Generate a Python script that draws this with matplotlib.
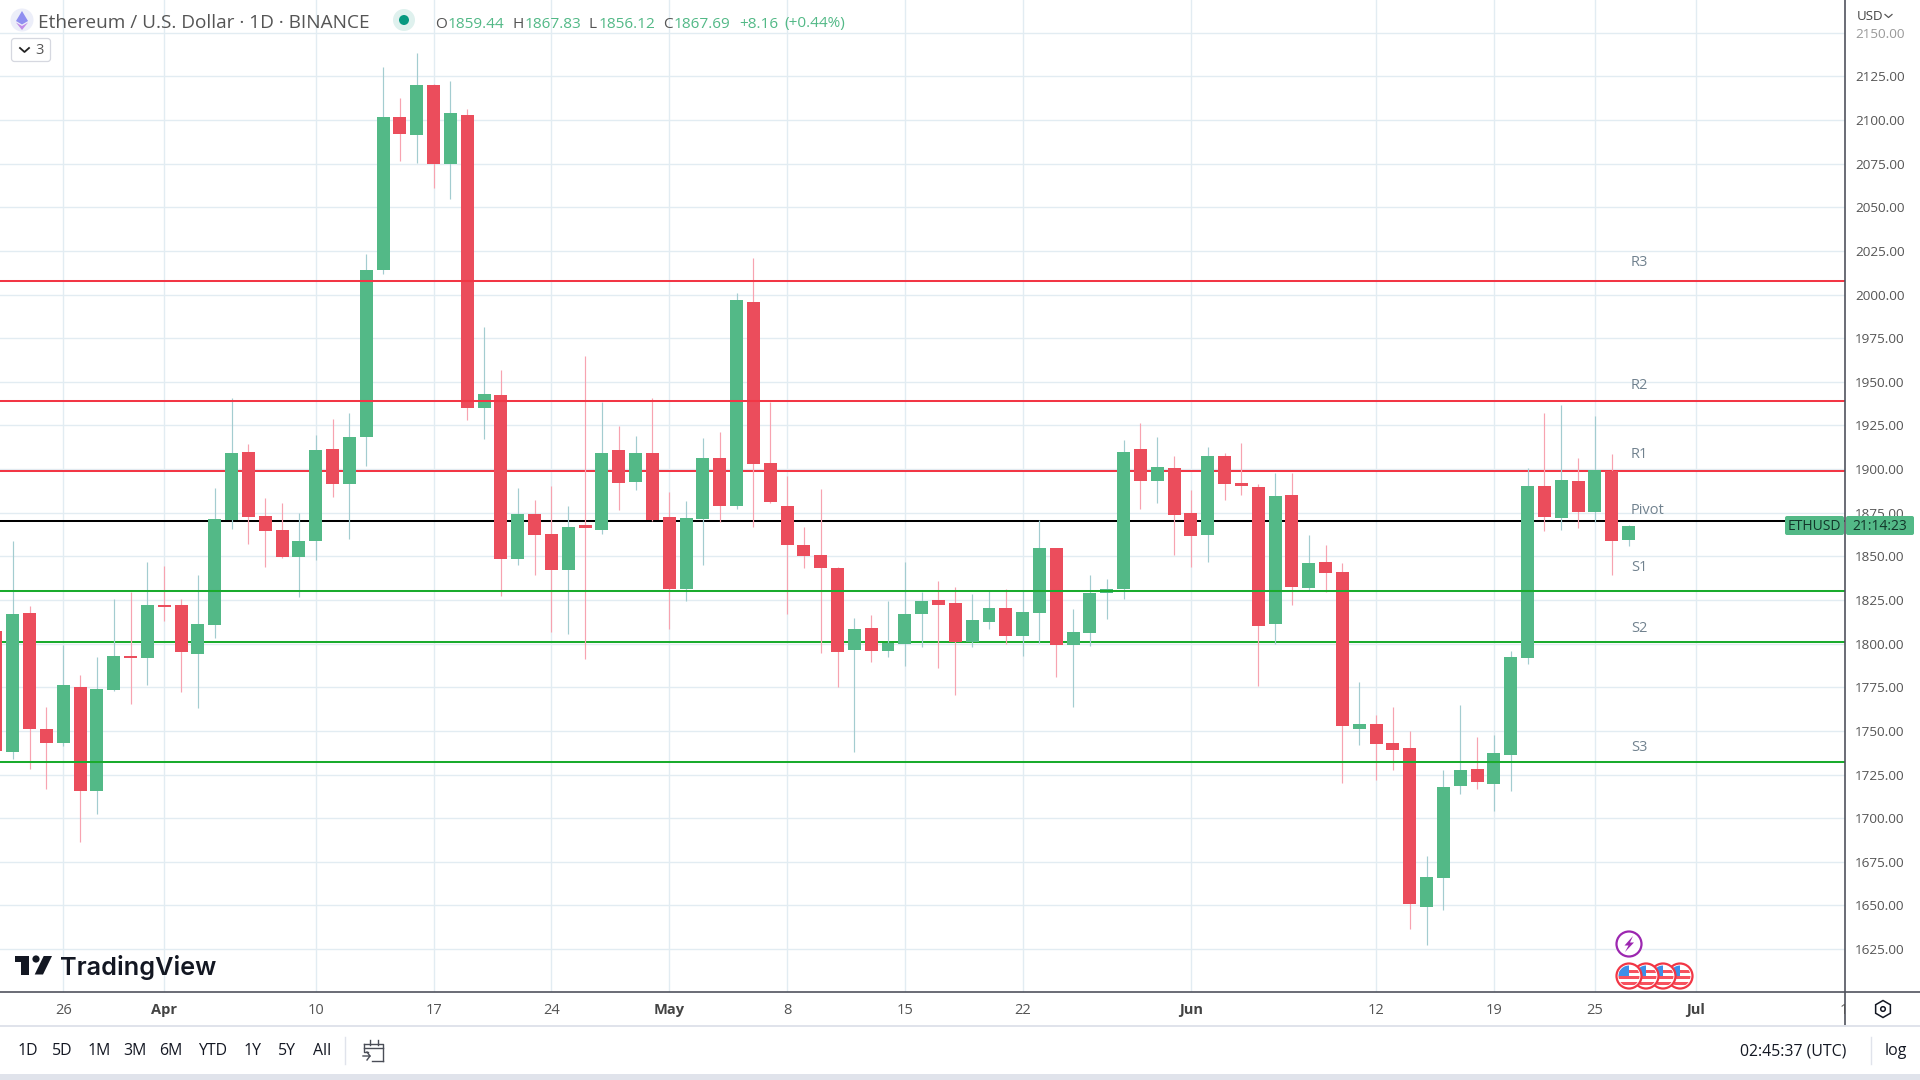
#!/usr/bin/env python3
import numpy as np
import pandas as pd
import matplotlib
matplotlib.use("Agg")
import matplotlib.pyplot as plt
import matplotlib.dates as mdates
from matplotlib.patches import Circle, Rectangle, Polygon, FancyBboxPatch, RegularPolygon

plt.rcParams['font.family'] = ['Open Sans', 'DejaVu Sans']

# daily candles, 22 Mar to 27 Jun 2023
opens = [1807.2, 1737.9, 1817.5, 1750.9, 1743.0, 1775.0, 1715.4, 1773.3, 1793.0, 1791.6,
         1822.2, 1822.0, 1794.0, 1810.6, 1870.8, 1909.9, 1873.2, 1865.0, 1849.8, 1858.9,
         1911.4, 1891.5, 1918.4, 2014.1, 2101.7, 2091.4, 2120.0, 2074.9, 2102.9, 1934.9,
         1942.4, 1848.4, 1874.1, 1862.7, 1842.1, 1868.0, 1865.0, 1910.9, 1892.7, 1909.1,
         1872.6, 1831.2, 1871.4, 1906.4, 1879.0, 1995.8, 1903.4, 1878.8, 1856.4, 1850.7,
         1843.2, 1796.3, 1808.9, 1795.7, 1799.8, 1817.0, 1825.1, 1823.3, 1801.0, 1812.4,
         1820.3, 1804.3, 1817.6, 1854.9, 1799.2, 1806.1, 1829.0, 1831.2, 1911.5, 1893.2,
         1900.7, 1874.8, 1862.2, 1907.6, 1892.0, 1889.8, 1811.3, 1885.2, 1831.7, 1846.7,
         1840.9, 1751.0, 1754.0, 1743.0, 1740.3, 1649.1, 1665.7, 1718.4, 1728.1, 1719.7,
         1736.1, 1791.7, 1890.4, 1872.0, 1893.1, 1875.5, 1899.1, 1859.44]
highs = [1825.0, 1858.8, 1821.8, 1763.6, 1799.5, 1782.0, 1792.2, 1825.6, 1829.7, 1847.0,
         1844.5, 1825.4, 1839.2, 1889.1, 1940.5, 1914.2, 1883.6, 1880.5, 1874.7, 1919.5,
         1928.6, 1932.2, 2023.2, 2130.3, 2112.6, 2138.4, 2120.8, 2122.4, 2106.2, 1981.3,
         1956.8, 1889.1, 1882.2, 1890.3, 1878.9, 1964.7, 1938.5, 1924.7, 1918.9, 1940.7,
         1886.8, 1881.7, 1917.8, 1921.2, 2000.9, 2021.0, 1938.4, 1896.1, 1866.7, 1888.6,
         1844.0, 1814.6, 1816.4, 1824.5, 1847.0, 1829.6, 1836.0, 1832.4, 1828.4, 1830.2,
         1831.2, 1830.2, 1871.0, 1854.9, 1819.7, 1839.3, 1836.9, 1916.6, 1926.3, 1918.4,
         1907.6, 1888.2, 1912.7, 1909.1, 1914.9, 1891.4, 1897.7, 1897.9, 1862.3, 1856.6,
         1846.2, 1778.0, 1759.2, 1763.7, 1750.0, 1678.4, 1727.6, 1764.9, 1746.5, 1747.7,
         1795.7, 1900.6, 1932.1, 1936.6, 1906.3, 1930.2, 1908.5, 1867.83]
lows = [1730.0, 1734.0, 1728.0, 1716.6, 1741.3, 1686.2, 1702.2, 1773.0, 1765.4, 1776.2,
        1813.0, 1772.3, 1763.0, 1803.0, 1865.9, 1857.0, 1843.9, 1849.0, 1826.7, 1848.0,
        1884.0, 1859.9, 1901.8, 2011.7, 2076.6, 2075.5, 2061.0, 2054.7, 1928.0, 1917.2,
        1827.1, 1845.1, 1839.2, 1806.6, 1805.6, 1791.0, 1862.9, 1876.7, 1888.2, 1870.3,
        1808.3, 1824.5, 1845.0, 1869.7, 1877.2, 1866.7, 1880.5, 1817.0, 1843.2, 1794.7,
        1775.1, 1738.0, 1789.7, 1792.3, 1787.2, 1798.0, 1786.0, 1770.6, 1798.0, 1808.3,
        1800.0, 1792.9, 1800.4, 1780.9, 1763.7, 1798.6, 1814.0, 1825.5, 1877.2, 1880.5,
        1850.7, 1843.8, 1847.0, 1882.3, 1885.1, 1775.7, 1800.0, 1822.1, 1830.8, 1829.5,
        1720.2, 1741.8, 1721.9, 1727.6, 1636.4, 1627.2, 1647.4, 1713.7, 1716.7, 1704.0,
        1715.4, 1788.5, 1864.5, 1865.0, 1866.3, 1869.5, 1839.2, 1856.12]
closes = [1738.5, 1816.9, 1750.9, 1743.0, 1776.2, 1715.4, 1773.8, 1792.8, 1792.0, 1822.0,
          1821.2, 1795.2, 1811.1, 1871.4, 1909.3, 1872.8, 1864.7, 1849.8, 1859.0, 1910.9,
          1891.5, 1918.4, 2014.1, 2101.7, 2092.0, 2120.0, 2074.9, 2104.0, 1934.9, 1943.0,
          1848.4, 1874.1, 1862.3, 1842.1, 1866.8, 1866.0, 1909.3, 1892.0, 1909.3, 1870.9,
          1831.2, 1872.0, 1906.4, 1878.6, 1997.0, 1902.8, 1881.1, 1856.4, 1850.1, 1843.2,
          1795.3, 1808.3, 1795.7, 1800.4, 1817.0, 1824.5, 1822.1, 1801.0, 1813.4, 1820.3,
          1804.3, 1818.2, 1854.9, 1799.2, 1806.7, 1829.0, 1831.2, 1909.7, 1893.2, 1901.2,
          1873.6, 1861.6, 1907.6, 1891.4, 1890.4, 1810.1, 1884.7, 1832.5, 1846.2, 1840.4,
          1752.7, 1754.0, 1742.5, 1739.0, 1650.8, 1666.2, 1717.9, 1727.6, 1720.7, 1737.3,
          1792.2, 1890.4, 1872.5, 1893.9, 1875.5, 1899.6, 1858.8, 1867.69]

# pivot levels
over_names = ['R3', 'R2', 'S1', 'S3']
over_levels = [2007.8, 1939.0, 1830.2, 1732.2]
over_colours = ['#f23645', '#f23645', '#1aab2d', '#1aab2d']
under_names = ['R1', 'Pivot', 'S2']
under_levels = [1898.9, 1870.3, 1801.0]
under_colours = ['#f23645', '#000000', '#1aab2d']
label_lift = {'R3': 13.1, 'R2': 11.4, 'R1': 12.2, 'Pivot': 7.8, 'S1': 16.6, 'S2': 9.6, 'S3': 10.5}

price_ticks = list(range(1625, 2151, 25))
date_ticks = ['2023-03-26', '2023-04-01', '2023-04-10', '2023-04-17', '2023-04-24', '2023-05-01',
              '2023-05-08', '2023-05-15', '2023-05-22', '2023-06-01', '2023-06-12', '2023-06-19',
              '2023-06-25', '2023-07-01']
date_labels = ['26', 'Apr', '10', '17', '24', 'May', '8', '15', '22', 'Jun', '12', '19', '25', 'Jul']
range_buttons = ['1D', '5D', '1M', '3M', '6M', 'YTD', '1Y', '5Y', 'All']
range_x = [28, 62, 99, 135, 171, 213, 253, 287, 322]

UP = '#53b987'
DOWN = '#eb4d5c'
UP_WICK = '#a3ccd0'
DOWN_WICK = '#f7a3b0'
GRID = '#e2ecf2'
AXIS = '#50535e'
TEXT = '#555555'

W, H = 1920, 1080
PANE_R, PANE_B = 1845, 992

fig = plt.figure(figsize=(W / 100, H / 100), dpi=100, facecolor='white')
ax = fig.add_axes([0, 1 - PANE_B / H, PANE_R / W, PANE_B / H])

dates = mdates.date2num(pd.date_range('2023-03-22', '2023-06-27'))
opens, highs, lows, closes = map(np.array, (opens, highs, lows, closes))
up = closes >= opens
anchor = mdates.date2num(pd.Timestamp('2023-03-26'))

ax.set_xlim(anchor - 3.761, anchor + 105.86)
ax.set_ylim(1600.4, 2168.8)

ax.vlines(dates[up], lows[up], highs[up], color=UP_WICK, lw=0.85, zorder=2)
ax.vlines(dates[~up], lows[~up], highs[~up], color=DOWN_WICK, lw=0.85, zorder=2)
ax.bar(dates[up], (closes - opens)[up], bottom=opens[up], width=0.77, color=UP, lw=0, zorder=3)
ax.bar(dates[~up], (opens - closes)[~up], bottom=closes[~up], width=0.77, color=DOWN, lw=0, zorder=3)

label_x = anchor + 93.15
for names, levels, colours, z in ((under_names, under_levels, under_colours, 1),
                                  (over_names, over_levels, over_colours, 4)):
    for name, level, colour in zip(names, levels, colours):
        ax.axhline(level, color=colour, lw=1.45, zorder=z)
        ax.annotate(name, xy=(label_x, level), xytext=(0, label_lift[name]), textcoords='offset points',
                    color='#71828f', fontsize=10.5, ha='left', va='center', zorder=5)

ax.set_axisbelow(True)
ax.grid(True, color=GRID, lw=1.0)
ax.yaxis.tick_right()
ax.set_yticks(price_ticks)
ax.set_yticklabels(['%.2f' % p for p in price_ticks])
ax.set_xticks(mdates.date2num(pd.to_datetime(date_ticks)))
ax.set_xticklabels(date_labels)
ax.tick_params(axis='both', length=0, labelcolor=TEXT)
ax.tick_params(axis='y', pad=7.2, labelsize=9.7)
ax.tick_params(axis='x', pad=7.8, labelsize=10.5)
for lab in ax.get_xticklabels():
    if lab.get_text() in ('Apr', 'May', 'Jun', 'Jul'):
        lab.set_fontweight('bold')
        lab.set_color('#444444')
ax.get_yticklabels()[-1].set_alpha(0.6)
for s in ax.spines.values():
    s.set_visible(False)

# everything around the chart, in screen pixels
ui = fig.add_axes([0, 0, 1, 1], zorder=10)
ui.set_xlim(0, W)
ui.set_ylim(H, 0)
ui.axis('off')
ui.patch.set_alpha(0)

ui.plot([0, W], [PANE_B, PANE_B], color=AXIS, lw=1.2)
ui.plot([PANE_R, PANE_R], [0, 1026], color=AXIS, lw=1.2)
ui.plot([0, W], [1026, 1026], color='#e0e3eb', lw=1.4)
ui.add_patch(Rectangle((0, 1074), W, 6, color='#e0e3eb', lw=0))

# the clipped tick label at the right edge of the time scale
edge = ui.text(1840, 1010, '10', color=TEXT, fontsize=10.5, ha='left', va='center', clip_on=True)
edge.set_clip_path(Rectangle((0, 0), PANE_R, H, transform=ui.transData))
ui.add_patch(Rectangle((PANE_R + 1, 0), W - PANE_R, 26, color='white', lw=0, alpha=0.6))

# header
ui.add_patch(Circle((22, 20), 11.5, color='#eceef9', lw=0))
ui.add_patch(Polygon([(22, 11), (28, 21), (22, 24.5), (16, 21)], color='#8f8ef0', lw=0))
ui.add_patch(Polygon([(16, 22.5), (22, 26), (28, 22.5), (22, 30)], color='#c08be8', lw=0))
ui.text(38, 23, 'Ethereum / U.S. Dollar · 1D · BINANCE', color='#555555', fontsize=13.7,
        ha='left', va='center')
ui.add_patch(Circle((404, 20), 11, color='#dff1ee', lw=0))
ui.add_patch(Circle((404, 20), 5, color='#089981', lw=0))

ohlc_x = [435, 448, 512, 525, 589, 599, 663, 674, 739, 784]
ohlc_text = ['O', '1859.44', 'H', '1867.83', 'L', '1856.12', 'C', '1867.69', '+8.16', '(+0.44%)']
for i, (x, s) in enumerate(zip(ohlc_x, ohlc_text)):
    is_letter = i < 8 and i % 2 == 0
    ui.text(x, 24, s, color='#555555' if is_letter else UP, fontsize=11.1, ha='left', va='center')

ui.add_patch(FancyBboxPatch((11.5, 38.5), 39, 23, boxstyle='round,pad=0,rounding_size=3',
                            fc='white', ec='#d6d8e0', lw=0.9))
ui.plot([20, 24.5, 29], [48, 52, 48], color='#222222', lw=1.3)
ui.text(40, 50, '3', color='#555555', fontsize=10.5, ha='center', va='center')

ui.text(1857, 17, 'USD', color='#444444', fontsize=9.5, ha='left', va='center')
ui.plot([1885, 1888.5, 1892], [14.5, 17.5, 14.5], color='#555555', lw=0.9)

# last price tag
ui.add_patch(FancyBboxPatch((1785, 516), 59, 19, boxstyle='round,pad=0,rounding_size=2', fc=UP, ec='none'))
ui.add_patch(FancyBboxPatch((1846, 516), 68, 19, boxstyle='round,pad=0,rounding_size=2', fc=UP, ec='none'))
ui.text(1814.5, 526.5, 'ETHUSD', color='#12362a', fontsize=10, ha='center', va='center')
ui.text(1880, 526.5, '21:14:23', color='#12362a', fontsize=10, ha='center', va='center')

# logo
ui.add_patch(Polygon([(15, 956), (28.5, 956), (28.5, 974.5), (21.2, 974.5), (21.2, 962), (15, 962)],
                     color='#131722', lw=0))
ui.add_patch(Circle((36, 959), 3.6, color='#131722', lw=0))
ui.add_patch(Polygon([(43.7, 956), (52, 956), (43, 974.5), (34.7, 974.5)], color='#131722', lw=0))
ui.text(60, 968, 'TradingView', color='#131722', fontsize=18.2, family=['Inter', 'DejaVu Sans'],
        weight='semibold', ha='left', va='center')

# events
ui.add_patch(Circle((1629, 944), 12.5, fc='white', ec='#9c27b0', lw=1.6))
ui.add_patch(Polygon([(1633, 936), (1624.5, 945.5), (1628.5, 945.5), (1625, 952), (1634, 942.5), (1630, 942.5)],
                     color='#9c27b0', lw=0))
for cx in [1680, 1663, 1646, 1629]:
    ring = Circle((cx, 976), 12.5, fc='white', ec='#f23645', lw=1.6, zorder=3)
    ui.add_patch(ring)
    for y0 in (969.5, 975.5, 981.5):
        st = Rectangle((cx - 12, y0), 24, 3.2, color='#f7525f', lw=0, zorder=3)
        ui.add_patch(st)
        st.set_clip_path(Circle((cx, 976), 10.5, transform=ui.transData))
    canton = Rectangle((cx - 11, 965), 11, 10.5, color='#3d8fe8', lw=0, zorder=3)
    ui.add_patch(canton)
    canton.set_clip_path(Circle((cx, 976), 10.5, transform=ui.transData))

# settings button
ui.add_patch(RegularPolygon((1883, 1009), 6, radius=8.5, fc='white', ec='#131722', lw=1.1))
ui.add_patch(Circle((1883, 1009), 2.3, fc='white', ec='#131722', lw=1.1))

# bottom toolbar
for x, s in zip(range_x, range_buttons):
    ui.text(x, 1051, s, color='#131722', fontsize=11.4, ha='center', va='center')
ui.plot([345, 345], [1037, 1064], color='#e0e3eb', lw=1)
ui.plot([364, 383, 383], [1044, 1044, 1061], color='#4a4d57', lw=1.0)
ui.plot([364, 364, 368], [1044, 1052, 1052], color='#4a4d57', lw=1.0)
ui.plot([364, 383], [1047.5, 1047.5], color='#4a4d57', lw=1.0)
ui.plot([370, 370], [1040, 1045], color='#4a4d57', lw=1.0)
ui.plot([378, 378], [1040, 1045], color='#4a4d57', lw=1.0)
ui.plot([372, 383], [1061, 1061], color='#4a4d57', lw=1.0)
ui.plot([363, 370, 367], [1056, 1056, 1060], color='#4a4d57', lw=1.0)
ui.plot([367, 370], [1052, 1056], color='#4a4d57', lw=1.0)

ui.text(1740, 1051, '02:45:37 (UTC)', color='#131722', fontsize=11.4, ha='left', va='center')
ui.plot([1870.5, 1870.5], [1037, 1064], color='#e0e3eb', lw=1)
ui.text(1885, 1051, 'log', color='#131722', fontsize=11.4, ha='left', va='center')

fig.savefig('out.png', dpi=100)
